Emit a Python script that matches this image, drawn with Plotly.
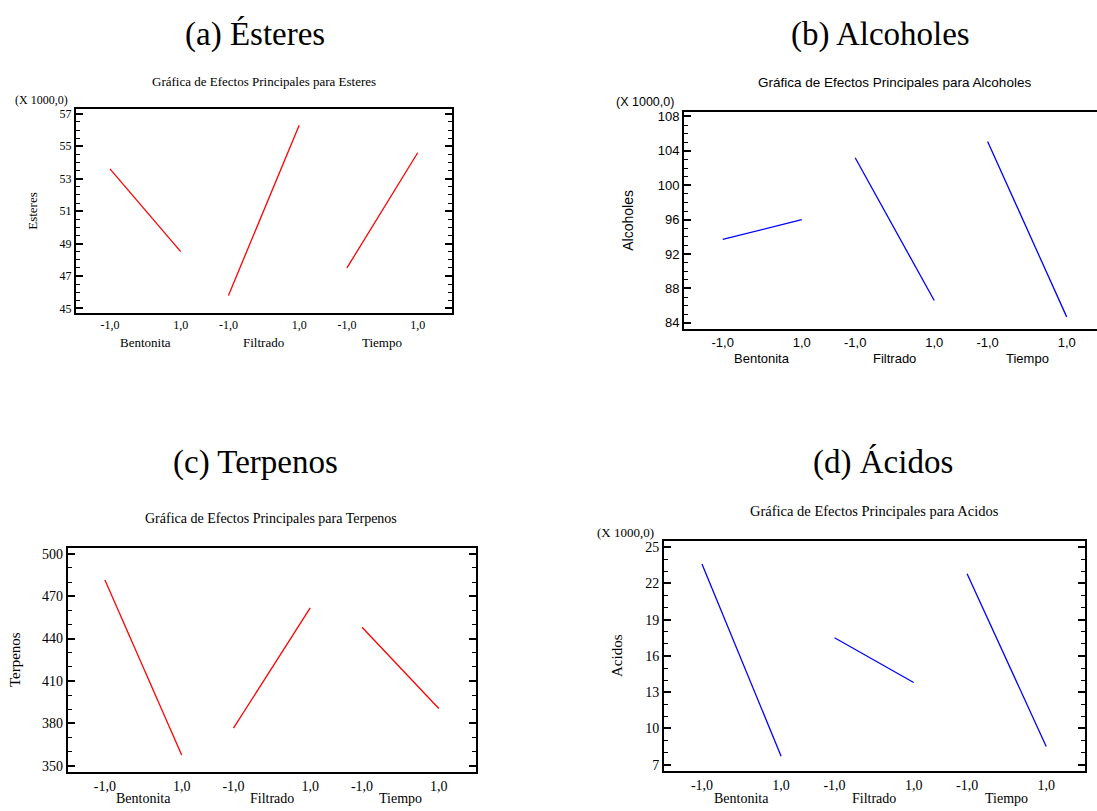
import plotly.graph_objects as go

# ---------------- data (values in thousands where the axis says X 1000,0) ----
factors = ["Bentonita", "Filtrado", "Tiempo"]
levels = [-1.0, 1.0]
level_labels = ["-1,0", "1,0"]

esteres_low = [53.6, 45.8, 47.5]
esteres_high = [48.5, 56.3, 54.6]

alcoholes_low = [93.7, 103.2, 105.1]
alcoholes_high = [96.0, 86.6, 84.7]

terpenos_low = [481.5, 376.5, 448.0]
terpenos_high = [357.5, 461.8, 390.5]

acidos_low = [23.6, 17.5, 22.8]
acidos_high = [7.7, 13.8, 8.5]

GROUP_SPACING = 3.35
offsets = [i * GROUP_SPACING for i in range(len(factors))]

W, H = 1097, 811


def dx(p0, p1):
    return [p0 / W, min(p1 / W, 1.0)]


def dy(top, bottom):
    return [1 - bottom / H, 1 - top / H]


SERIF = "Liberation Serif"
SANS = "Liberation Sans"

panels = [
    dict(key="a", low=esteres_low, high=esteres_high, color="#FF0000",
         xdom=dx(76, 452), ydom=dy(106.7, 312), xr=[-1.96, 8.67],
         yr=[44.74, 57.3], tick0=45, dtick=2, minor=0.5, font=SERIF,
         tfs=12, title="Gráfica de Efectos Principales para Esteres",
         title_xy=(264, 79), title_fs=13, ytitle="Esteres", ytitle_x=33,
         ytitle_fs=13, mult_xy=(41, 98), mult_fs=12, cat_y=342, cat_fs=13,
         mirror=True, big="(a) Ésteres", big_xy=(255, 32)),
    dict(key="b", low=alcoholes_low, high=alcoholes_high, color="#0000FF",
         xdom=dx(684, 1097), ydom=dy(110, 328.7), xr=[-1.98, 8.467],
         yr=[83.26, 108.5], tick0=84, dtick=4, minor=1, font=SANS,
         tfs=13, title="Gráfica de Efectos Principales para Alcoholes",
         title_xy=(894, 80), title_fs=13.5, ytitle="Alcoholes", ytitle_x=628,
         ytitle_fs=14, mult_xy=(645, 100), mult_fs=12.5, cat_y=358, cat_fs=13,
         mirror=False, big="(b) Alcoholes", big_xy=(880, 32)),
    dict(key="c", low=terpenos_low, high=terpenos_high, color="#FF0000",
         xdom=dx(67.7, 476), ydom=dy(549.3, 774.7), xr=[-1.97, 8.67],
         yr=[345.5, 504.0], tick0=350, dtick=30, minor=10, font=SERIF,
         tfs=14, title="Gráfica de Efectos Principales para Terpenos",
         title_xy=(271, 519), title_fs=14, ytitle="Terpenos", ytitle_x=15,
         ytitle_fs=15, mult_xy=None, mult_fs=12, cat_y=801, cat_fs=14,
         mirror=True, big="(c) Terpenos", big_xy=(255, 463)),
    dict(key="d", low=acidos_low, high=acidos_high, color="#0000FF",
         xdom=dx(664, 1085), ydom=dy(541.7, 774), xr=[-1.96, 8.68],
         yr=[6.45, 25.54], tick0=7, dtick=3, minor=1, font=SERIF,
         tfs=14, title="Gráfica de Efectos Principales para Acidos",
         title_xy=(874, 512), title_fs=14.5, ytitle="Acidos", ytitle_x=617,
         ytitle_fs=15, mult_xy=(625, 533), mult_fs=13, cat_y=801, cat_fs=14,
         mirror=True, big="(d) Ácidos", big_xy=(883, 463)),
]

fig = go.Figure()
annotations = []

for i, p in enumerate(panels):
    n = "" if i == 0 else str(i + 1)
    xa, ya = "x" + n, "y" + n
    # one segment per factor: low level -> high level
    xs, ys = [], []
    for off, lo, hi in zip(offsets, p["low"], p["high"]):
        xs += [off + levels[0], off + levels[1], None]
        ys += [lo, hi, None]
    fig.add_trace(go.Scatter(x=xs, y=ys, mode="lines", xaxis=xa, yaxis=ya,
                             line=dict(color=p["color"], width=1.3),
                             showlegend=False, hoverinfo="skip"))

    tickvals, ticktext = [], []
    for off in offsets:
        for lv, lt in zip(levels, level_labels):
            tickvals.append(off + lv)
            ticktext.append(lt)

    fig.layout["xaxis" + n] = dict(
        domain=p["xdom"], anchor=ya, range=p["xr"], tickvals=tickvals,
        ticktext=ticktext, ticks="", showgrid=False, zeroline=False,
        showline=True, linecolor="black", linewidth=2, mirror=True,
        tickfont=dict(family=p["font"], size=p["tfs"], color="black"),
        fixedrange=True)
    fig.layout["yaxis" + n] = dict(
        domain=p["ydom"], anchor=xa, range=p["yr"], tick0=p["tick0"],
        dtick=p["dtick"], ticks="inside", ticklen=7, tickwidth=1.5,
        tickcolor="black", showgrid=False, zeroline=False, showline=True,
        linecolor="black", linewidth=2,
        mirror="ticks" if p["mirror"] else False,
        minor=dict(dtick=p["minor"], ticks="inside", ticklen=4,
                   tickwidth=1.2, tickcolor="black", showgrid=False),
        tickfont=dict(family=p["font"], size=p["tfs"], color="black"),
        fixedrange=True)

    # factor names below tick labels
    for off, name in zip(offsets, factors):
        annotations.append(dict(
            x=off, y=1 - p["cat_y"] / H, xref=xa, yref="paper", text=name,
            showarrow=False, xanchor="center", yanchor="middle",
            font=dict(family=p["font"], size=p["cat_fs"], color="black")))

    # chart title
    annotations.append(dict(
        x=p["title_xy"][0] / W, y=1 - p["title_xy"][1] / H, xref="paper",
        yref="paper", text=p["title"], showarrow=False, xanchor="center",
        yanchor="middle",
        font=dict(family=p["font"], size=p["title_fs"], color="black")))
    # y axis title
    annotations.append(dict(
        x=p["ytitle_x"] / W, y=(p["ydom"][0] + p["ydom"][1]) / 2,
        xref="paper", yref="paper", text=p["ytitle"], textangle=-90,
        showarrow=False, xanchor="center", yanchor="middle",
        font=dict(family=p["font"], size=p["ytitle_fs"], color="black")))
    # multiplier label
    if p["mult_xy"]:
        annotations.append(dict(
            x=p["mult_xy"][0] / W, y=1 - p["mult_xy"][1] / H, xref="paper",
            yref="paper", text="(X 1000,0)", showarrow=False,
            xanchor="center", yanchor="middle",
            font=dict(family=p["font"], size=p["mult_fs"], color="black")))
    # big panel heading
    annotations.append(dict(
        x=p["big_xy"][0] / W, y=1 - p["big_xy"][1] / H, xref="paper",
        yref="paper", text=p["big"], showarrow=False, xanchor="center",
        yanchor="middle",
        font=dict(family=SERIF, size=33, color="black")))

fig.update_layout(
    width=W, height=H, margin=dict(l=0, r=0, t=0, b=0),
    paper_bgcolor="white", plot_bgcolor="white",
    annotations=annotations, showlegend=False)

fig.write_html(
    "out.html",
    config={"displayModeBar": False},
    post_script="document.body.style.margin='0';"
                "document.body.style.overflow='hidden';")
